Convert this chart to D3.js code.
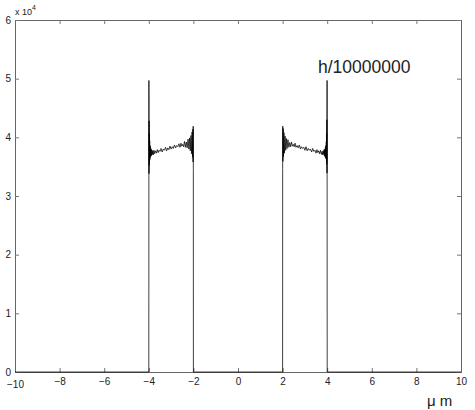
<!DOCTYPE html>
<html>
<head>
<meta charset="utf-8">
<script src="https://cdn.jsdelivr.net/npm/d3@7"></script>
<style>
  body { margin: 0; background: #fff; }
  text { font-family: "Liberation Sans", Arial, sans-serif; fill: #222; }
</style>
</head>
<body>
<div id="chart"></div>
<script>
// x positions (um) and values (x 1e4)
let leftX = [-10, -4.0, -3.995, -3.99, -3.985, -3.98, -3.975, -3.97, -3.96, -3.95, -3.94, -3.93, -3.92, -3.905, -3.89, -3.875, -3.86, -3.84, -3.82, -3.8, -3.77, -3.74, -3.7, -3.66, -3.62, -3.58, -3.54, -3.5, -3.45, -3.4, -3.35, -3.3, -3.25, -3.2, -3.15, -3.1, -3.05, -3.0, -2.95, -2.9, -2.85, -2.8, -2.75, -2.7, -2.65, -2.6, -2.56, -2.52, -2.48, -2.44, -2.4, -2.36, -2.32, -2.28, -2.24, -2.2, -2.17, -2.14, -2.11, -2.08, -2.06, -2.04, -2.025, -2.015, -2.008, -2.003, -2.0, 0]
let leftY = [0, 0, 4.97, 3.38, 4.28, 3.52, 4.07, 3.60, 3.94, 3.62, 3.86, 3.66, 3.83, 3.68, 3.80, 3.69, 3.78, 3.71, 3.77, 3.70, 3.78, 3.72, 3.77, 3.73, 3.79, 3.74, 3.78, 3.76, 3.81, 3.75, 3.80, 3.78, 3.83, 3.77, 3.82, 3.79, 3.85, 3.80, 3.84, 3.81, 3.87, 3.82, 3.86, 3.84, 3.89, 3.83, 3.90, 3.85, 3.88, 3.84, 3.93, 3.83, 3.92, 3.82, 3.97, 3.80, 3.99, 3.77, 4.03, 3.72, 4.09, 3.66, 4.14, 3.58, 4.19, 3.45, 0, 0]

let rightX = [0, 2.0, 2.003, 2.008, 2.015, 2.025, 2.04, 2.06, 2.08, 2.11, 2.14, 2.17, 2.2, 2.24, 2.28, 2.32, 2.36, 2.4, 2.44, 2.48, 2.52, 2.56, 2.6, 2.65, 2.7, 2.75, 2.8, 2.85, 2.9, 2.95, 3.0, 3.05, 3.1, 3.15, 3.2, 3.25, 3.3, 3.35, 3.4, 3.45, 3.5, 3.54, 3.58, 3.62, 3.66, 3.7, 3.74, 3.77, 3.8, 3.82, 3.84, 3.86, 3.875, 3.89, 3.905, 3.92, 3.93, 3.94, 3.95, 3.96, 3.97, 3.975, 3.98, 3.985, 3.99, 3.995, 4.0, 10]
let rightY = [0, 0, 3.47, 4.19, 3.59, 4.15, 3.67, 4.08, 3.73, 4.02, 3.78, 3.98, 3.81, 3.96, 3.83, 3.91, 3.84, 3.92, 3.85, 3.88, 3.84, 3.90, 3.83, 3.86, 3.82, 3.87, 3.80, 3.84, 3.81, 3.83, 3.78, 3.84, 3.77, 3.81, 3.78, 3.80, 3.75, 3.81, 3.76, 3.78, 3.73, 3.79, 3.74, 3.77, 3.72, 3.78, 3.71, 3.76, 3.70, 3.77, 3.71, 3.79, 3.68, 3.80, 3.67, 3.83, 3.65, 3.86, 3.63, 3.93, 3.60, 4.07, 3.54, 4.30, 3.39, 4.97, 0, 0]

let xTicks = [-10, -8, -6, -4, -2, 0, 2, 4, 6, 8, 10]
let yTicks = [0, 1, 2, 3, 4, 5, 6]

let width = 475
    height = 410
    margin = {left: 15, right: 14, top: 20, bottom: 38}

let svg = d3.select("#chart")
  .append("svg")
  .attr("width", width)
  .attr("height", height)

let x = d3.scaleLinear().domain([-10, 10]).range([margin.left, width - margin.right])
let y = d3.scaleLinear().domain([0, 6]).range([height - margin.bottom, margin.top])

// axes, MATLAB style ticks pointing inward
svg.append("g")
  .attr("transform", "translate(0," + y(0) + ")")
  .call(d3.axisBottom(x).tickValues(xTicks).tickSize(-4).tickPadding(6).tickFormat(d => d < 0 ? "\u2212" + (-d) : d))
svg.append("g")
  .attr("transform", "translate(0," + y(6) + ")")
  .call(d3.axisTop(x).tickValues(xTicks).tickSize(-4).tickFormat(""))
svg.append("g")
  .attr("transform", "translate(" + x(-10) + ",0)")
  .call(d3.axisLeft(y).tickValues(yTicks).tickSize(-4).tickPadding(4).tickFormat(d3.format("d")))
svg.append("g")
  .attr("transform", "translate(" + x(10) + ",0)")
  .call(d3.axisRight(y).tickValues(yTicks).tickSize(-4).tickFormat(""))

svg.selectAll(".domain").attr("stroke", "#666")
svg.selectAll(".tick line").attr("stroke", "#777")
svg.selectAll(".tick text").style("font-size", "10px").attr("fill", "#222")
  .style("font-family", "'Liberation Sans', Arial, sans-serif")

// the -10 label sits under the 0 y-tick label like in the original
svg.selectAll("g.tick text").filter(function() { return this.textContent == "\u221210" })
  .attr("dy", "0.95em")

let line = d3.line().x(d => x(d[0])).y(d => y(d[1]))

let series = [d3.zip(leftX, leftY), d3.zip(rightX, rightY)]
series.forEach(s => {
  svg.append("path")
    .datum(s)
    .attr("d", line)
    .attr("fill", "none")
    .attr("stroke", "#000")
    .attr("stroke-width", 0.75)
})

// exponent label
let ex = svg.append("text").attr("x", 15).attr("y", 15).style("font-size", "9px")
ex.append("tspan").text("x 10")
ex.append("tspan").attr("dy", -5).style("font-size", "7px").text("4")

svg.append("text")
  .attr("x", 318).attr("y", 73)
  .style("font-size", "17.5px")
  .text("h/10000000")

svg.append("text")
  .attr("x", 427).attr("y", 406)
  .style("font-size", "15px")
  .text("\u03bc m")
</script>
</body>
</html>
